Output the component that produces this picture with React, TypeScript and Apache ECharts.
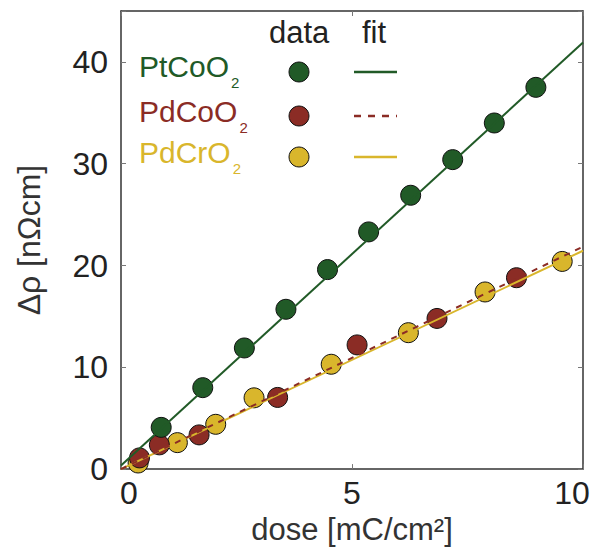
import React, { useEffect, useRef } from "react";
import * as echarts from "echarts";

// ---- data ----
const ptcoo2Dose = [0.87, 1.77, 2.67, 3.57, 4.47, 5.36, 6.27, 7.18, 8.08, 8.98];
const ptcoo2Rho = [4.1, 8.0, 11.9, 15.7, 19.6, 23.3, 26.9, 30.4, 34.0, 37.5];
const pdcoo2Dose = [0.4, 0.83, 1.69, 3.39, 5.11, 6.84, 8.56];
const pdcoo2Rho = [1.1, 2.38, 3.36, 7.04, 12.2, 14.8, 18.8];
const pdcro2Dose = [0.37, 1.22, 2.05, 2.88, 4.55, 6.22, 7.88, 9.55];
const pdcro2Rho = [0.6, 2.6, 4.4, 7.0, 10.3, 13.4, 17.4, 20.4];
// linear fits: [dose, rho] endpoints
const ptcoo2Fit = [[0, 0.35], [10, 41.9]];
const pdcoo2Fit = [[0, 0], [10, 21.85]];
const pdcro2Fit = [[0, 0], [10, 21.45]];
const xTicks = [0, 5, 10];
const yTicks = [0, 10, 20, 30, 40];
const legendNames = ["PtCoO", "PdCoO", "PdCrO"];

const GREEN = "#215a27";
const RED = "#8b2c25";
const YELLOW = "#d9b62c";
const FONT = "Liberation Sans, Arial, Helvetica, sans-serif";

const zip = (a: number[], b: number[]) => a.map((v, i) => [v, b[i]]);

export default function App() {
  const ref = useRef<HTMLDivElement>(null);
  useEffect(() => {
    if (!ref.current) return;
    const chart = echarts.init(ref.current, null, { renderer: "svg" });
    const tickStyle = { show: true, inside: true, length: 5, lineStyle: { color: "#777", width: 1 } };
    const axisLine = { show: true, onZero: false, lineStyle: { color: "#333", width: 1.5 } };
    const pointStyle = (c: string) => ({ color: c, borderColor: "#111", borderWidth: 1, opacity: 1 });
    const colors = [GREEN, RED, YELLOW];
    const textY = [66.5, 111, 152];
    const markerY = [72, 116, 157];
    const graphic: any[] = [
      { type: "text", left: 269, top: 17, style: { text: "data", font: `31px ${FONT}`, fill: "#222" } },
      { type: "text", left: 362, top: 17, style: { text: "fit", font: `31px ${FONT}`, fill: "#222" } },
    ];
    legendNames.forEach((name, i) => {
      const c = colors[i];
      graphic.push({
        type: "text",
        x: 139,
        y: textY[i],
        style: {
          text: `{m|${name}}{s|2}`,
          verticalAlign: "middle",
          rich: {
            m: { fontSize: 30, fontFamily: FONT, fill: c, lineHeight: 47 },
            s: { fontSize: 15, fontFamily: FONT, fill: c, lineHeight: 15, verticalAlign: "bottom", padding: [0, 0, 0, 2] },
          },
        },
      });
      graphic.push({ type: "circle", shape: { cx: 299, cy: markerY[i], r: 10 }, style: { fill: c, stroke: "#111", lineWidth: 1 } });
      graphic.push({
        type: "line",
        shape: { x1: 354, y1: markerY[i], x2: 397, y2: markerY[i] },
        style: { stroke: c, lineWidth: 2.5, lineDash: i === 1 ? [7, 7] : null },
      });
    });

    const xBase = {
      type: "value",
      min: 0,
      max: 10,
      interval: 5,
      splitLine: { show: false },
      axisLine,
      axisTick: tickStyle,
    };
    const yBase = {
      type: "value",
      min: 0,
      max: 45,
      interval: 10,
      splitLine: { show: false },
      axisLine,
      axisTick: tickStyle,
    };

    chart.setOption({
      animation: false,
      backgroundColor: "#fff",
      textStyle: { fontFamily: FONT },
      grid: { left: 121, right: 14, top: 11, bottom: 79, containLabel: false },
      xAxis: [
        {
          ...xBase,
          position: "bottom",
          name: "dose [mC/cm²]",
          nameLocation: "middle",
          nameGap: 36,
          nameTextStyle: { fontSize: 31, color: "#333", fontFamily: FONT },
          axisLabel: {
            fontSize: 32,
            color: "#222",
            margin: 8,
            fontFamily: FONT,
            formatter: (v: number) =>
              xTicks.includes(v) ? (v === 0 ? "{l|0}" : v === 10 ? "{r|10}" : String(v)) : "",
            rich: {
              l: { fontSize: 32, color: "#222", fontFamily: FONT, padding: [0, 0, 0, 16] },
              r: { fontSize: 32, color: "#222", fontFamily: FONT, padding: [0, 22, 0, 0] },
            },
          },
        },
        { ...xBase, position: "top", axisLabel: { show: false } },
      ],
      yAxis: [
        {
          ...yBase,
          position: "left",
          name: "Δρ [nΩcm]",
          nameLocation: "middle",
          nameGap: 76,
          nameTextStyle: { fontSize: 32, color: "#333", fontFamily: FONT },
          axisLabel: {
            fontSize: 32,
            color: "#222",
            margin: 13,
            fontFamily: FONT,
            formatter: (v: number) => (yTicks.includes(v) ? String(v) : ""),
          },
        },
        { ...yBase, position: "right", axisLabel: { show: false } },
      ],
      graphic,
      series: [
        { type: "line", data: pdcro2Fit, showSymbol: false, lineStyle: { color: YELLOW, width: 2 }, silent: true },
        { type: "line", data: pdcoo2Fit, showSymbol: false, lineStyle: { color: RED, width: 2, type: [6, 6] }, silent: true },
        { type: "line", data: ptcoo2Fit, showSymbol: false, lineStyle: { color: GREEN, width: 2 }, silent: true },
        { type: "scatter", data: zip(pdcro2Dose, pdcro2Rho), symbolSize: 20, itemStyle: pointStyle(YELLOW) },
        { type: "scatter", data: zip(pdcoo2Dose, pdcoo2Rho), symbolSize: 20, itemStyle: pointStyle(RED) },
        { type: "scatter", data: zip(ptcoo2Dose, ptcoo2Rho), symbolSize: 20, itemStyle: pointStyle(GREEN) },
      ],
    });
    return () => chart.dispose();
  }, []);
  return <div ref={ref} style={{ width: 597, height: 550, position: "absolute", left: 0, top: 0 }} />;
}
